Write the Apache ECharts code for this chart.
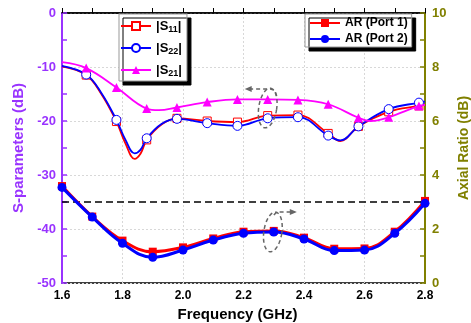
<!DOCTYPE html>
<html><head><meta charset="utf-8">
<script src="https://cdn.jsdelivr.net/npm/echarts@6/dist/echarts.min.js"></script>
<style>html,body{margin:0;padding:0;background:#fff}#c{width:471px;height:323px}</style>
</head><body><div id="c"></div>
<script>
// ---- data ----
const xTickLabels = ['1.6','1.8','2.0','2.2','2.4','2.6','2.8'];
const sFreq = [1.6,1.68,1.73,1.78,1.81,1.84,1.86,1.88,1.93,1.98,2.08,2.18,2.28,2.38,2.48,2.52,2.58,2.68,2.78,2.8];
const s11   = [-9.9,-11.5,-15.0,-20.1,-24.2,-27.0,-26.0,-23.5,-20.6,-19.5,-20.0,-20.2,-19.0,-18.9,-22.3,-23.7,-21.0,-18.3,-17.2,-17.0];
const s22   = [-9.8,-11.4,-14.8,-19.8,-23.5,-26.0,-25.3,-23.2,-20.5,-19.6,-20.4,-20.9,-19.5,-19.3,-22.7,-23.6,-21.0,-17.8,-16.6,-16.4];
const s21Freq = [1.6,1.68,1.78,1.88,1.92,1.98,2.08,2.18,2.28,2.38,2.48,2.58,2.62,2.68,2.78,2.8];
const s21     = [-9.1,-10.2,-13.8,-17.7,-18.0,-17.5,-16.5,-16.0,-16.0,-16.1,-16.9,-19.4,-20.0,-19.3,-17.2,-17.0];
const sMarkerFreq = [1.68,1.78,1.88,1.98,2.08,2.18,2.28,2.38,2.48,2.58,2.68,2.78];
const arFreq  = [1.6,1.7,1.8,1.9,2.0,2.1,2.2,2.3,2.4,2.5,2.6,2.7,2.8];
const arPort1 = [3.59,2.46,1.57,1.16,1.32,1.65,1.90,1.93,1.68,1.27,1.28,1.90,3.04];
const arPort2 = [3.54,2.44,1.47,0.95,1.22,1.59,1.84,1.89,1.63,1.20,1.22,1.84,2.95];
const arThreshold = 3;
const sNames = ['S11','S22','S21'];
const arNames = ['AR (Port 1)','AR (Port 2)'];

// ---- chart ----
const FONT = '"Liberation Sans", Arial, sans-serif';
const PURPLE = '#9933FF', OLIVE = '#808000';
const chart = echarts.init(document.getElementById('c'), null, {renderer:'canvas'});
const pairs = (f, v) => f.map((x, i) => [x, v[i]]);
const isMarker = x => sMarkerFreq.some(m => Math.abs(m - x) < 1e-6);

const gridLine = {show:true, lineStyle:{color:'#d8d8d8', type:[2,2], width:1}};
const option = {
  animation:false,
  backgroundColor:'#fff',
  grid:{left:62, right:46, top:13, bottom:40, show:true, borderColor:'#000', borderWidth:1.5, backgroundColor:'transparent', outerBoundsMode:'none'},
  xAxis:{
    type:'value', min:1.6, max:2.8, interval:0.2,
    name:'Frequency (GHz)', nameLocation:'middle', nameGap:23,
    nameTextStyle:{fontFamily:FONT, fontWeight:'bold', fontSize:15, color:'#000', padding:[0,12,0,0]},
    axisLine:{lineStyle:{color:'#000', width:1.5}},
    axisTick:{inside:true, length:5, lineStyle:{color:'#000', width:1}},
    minorTick:{show:true, splitNumber:2, length:5, lineStyle:{color:'#000', width:1}},
    axisLabel:{margin:7, fontFamily:FONT, fontWeight:'bold', fontSize:12, color:'#000',
      formatter:v => xTickLabels.find(t => Math.abs(parseFloat(t) - v) < 1e-6) || ''},
    splitLine:gridLine
  },
  yAxis:[{
    type:'value', min:-50, max:0, interval:10, position:'left',
    name:'S-parameters (dB)', nameLocation:'middle', nameGap:30,
    nameTextStyle:{fontFamily:FONT, fontWeight:'bold', fontSize:15, color:PURPLE},
    axisLine:{show:true, lineStyle:{color:PURPLE, width:2}},
    axisTick:{inside:true, length:5, lineStyle:{color:PURPLE, width:1.5}},
    minorTick:{show:true, splitNumber:2, length:5, lineStyle:{color:PURPLE, width:1.5}},
    axisLabel:{margin:6, fontFamily:FONT, fontWeight:'bold', fontSize:13, color:PURPLE},
    splitLine:gridLine
  },{
    type:'value', min:0, max:10, interval:2, position:'right',
    name:'Axial Ratio (dB)', nameLocation:'middle', nameGap:26,
    nameTextStyle:{fontFamily:FONT, fontWeight:'bold', fontSize:14, color:OLIVE},
    axisLine:{show:true, lineStyle:{color:OLIVE, width:2}},
    axisTick:{inside:true, length:5, lineStyle:{color:OLIVE, width:1.5}},
    minorTick:{show:true, splitNumber:2, length:5, lineStyle:{color:OLIVE, width:1.5}},
    axisLabel:{margin:7, fontFamily:FONT, fontWeight:'bold', fontSize:13, color:OLIVE},
    splitLine:{show:false}
  }],
  legend:[{
    data:sNames, orient:'vertical', left:119, top:14,
    itemWidth:30, itemHeight:10, itemGap:4, padding:[3,5,2,1],
    backgroundColor:'#fff', borderColor:'#999', borderWidth:1, borderRadius:0,
    shadowColor:'#000', shadowBlur:0, shadowOffsetX:4, shadowOffsetY:4,
    selectedMode:false,
    formatter:n => '|S{sub|' + n.slice(1) + '}|',
    textStyle:{fontFamily:FONT, fontWeight:'bold', fontSize:13, color:'#000', lineHeight:18,
      rich:{sub:{fontFamily:FONT, fontWeight:'bold', fontSize:9, color:'#000', padding:[8,0,0,0], lineHeight:18}}}
  },{
    data:arNames, orient:'vertical', left:305, top:14,
    itemWidth:30, itemHeight:10, itemGap:2, padding:[2,4,1,4],
    backgroundColor:'#fff', borderColor:'#999', borderWidth:1, borderRadius:0,
    shadowColor:'#000', shadowBlur:0, shadowOffsetX:4, shadowOffsetY:4,
    selectedMode:false,
    textStyle:{fontFamily:FONT, fontWeight:'bold', fontSize:12, color:'#000', lineHeight:14}
  }],
  series:[
    {name:'S11', type:'line', yAxisIndex:0, data:pairs(sFreq, s11), smooth:0.4,
      showSymbol:true, showAllSymbol:true, symbol:'rect', symbolSize:v => isMarker(v[0]) ? 8 : 0,
      lineStyle:{color:'#ff0000', width:1.8}, itemStyle:{color:'#fff', borderColor:'#ff0000', borderWidth:1},
      emphasis:{disabled:true}, z:2},
    {name:'S22', type:'line', yAxisIndex:0, data:pairs(sFreq, s22), smooth:0.4,
      showSymbol:true, showAllSymbol:true, symbol:'circle', symbolSize:v => isMarker(v[0]) ? 9 : 0,
      lineStyle:{color:'#0000ff', width:1.8}, itemStyle:{color:'#fff', borderColor:'#0000ff', borderWidth:1},
      emphasis:{disabled:true}, z:3},
    {name:'S21', type:'line', yAxisIndex:0, data:pairs(s21Freq, s21), smooth:0.4,
      showSymbol:true, showAllSymbol:true, symbol:'triangle', symbolSize:v => isMarker(v[0]) ? 9 : 0,
      lineStyle:{color:'#ff00ff', width:1.8}, itemStyle:{color:'#ff00ff'},
      emphasis:{disabled:true}, z:4},
    {name:'AR (Port 1)', type:'line', yAxisIndex:1, data:pairs(arFreq, arPort1), smooth:0.4,
      showSymbol:true, showAllSymbol:true, symbol:'rect', symbolSize:8,
      lineStyle:{color:'#ff0000', width:3}, itemStyle:{color:'#ff0000'},
      emphasis:{disabled:true}, z:5,
      markLine:{silent:true, symbol:'none', label:{show:false},
        lineStyle:{color:'#000', type:[7,4], width:1.5},
        data:[{yAxis:arThreshold}]}},
    {name:'AR (Port 2)', type:'line', yAxisIndex:1, data:pairs(arFreq, arPort2), smooth:0.4,
      showSymbol:true, showAllSymbol:true, symbol:'circle', symbolSize:9,
      lineStyle:{color:'#0000ff', width:3}, itemStyle:{color:'#0000ff'},
      emphasis:{disabled:true}, z:6}
  ]
};
chart.setOption(option);

// ---- annotations (dashed ellipses with arrows), placed from data coordinates ----
function ellipsePts(cx, cy, rx, ry, tilt){
  const pts = [];
  for (let k = 0; k <= 48; k++){
    const t = k / 48 * Math.PI * 2;
    const x = rx * Math.cos(t), y = ry * Math.sin(t);
    pts.push([cx + x*Math.cos(tilt) - y*Math.sin(tilt), cy + x*Math.sin(tilt) + y*Math.cos(tilt)]);
  }
  return pts;
}
const dashStyle = {stroke:'#666', lineWidth:1.5, lineDash:[4,3], fill:null};
const c1 = chart.convertToPixel({xAxisIndex:0, yAxisIndex:0}, [2.28, -17.6]);
const c2 = chart.convertToPixel({xAxisIndex:0, yAxisIndex:1}, [2.297, 1.89]);
const g = [];
g.push({type:'polyline', shape:{points:ellipsePts(c1[0], c1[1], 9, 20, 0.15)}, style:dashStyle, z:100, silent:true});
g.push({type:'polyline', shape:{points:[[c1[0]+9,c1[1]-12],[c1[0]+7,c1[1]-18],[c1[0]+2,c1[1]-19],[c1[0]-18,c1[1]-19]]}, style:dashStyle, z:100, silent:true});
g.push({type:'polygon', shape:{points:[[c1[0]-23,c1[1]-19],[c1[0]-16,c1[1]-22],[c1[0]-16,c1[1]-16]]}, style:{fill:'#666'}, z:100, silent:true});
g.push({type:'polyline', shape:{points:ellipsePts(c2[0], c2[1], 9, 20, 0.15)}, style:dashStyle, z:100, silent:true});
g.push({type:'polyline', shape:{points:[[c2[0]+1,c2[1]-17],[c2[0]+4,c2[1]-20],[c2[0]+18,c2[1]-20]]}, style:dashStyle, z:100, silent:true});
g.push({type:'polygon', shape:{points:[[c2[0]+24,c2[1]-20],[c2[0]+17,c2[1]-23],[c2[0]+17,c2[1]-17]]}, style:{fill:'#666'}, z:100, silent:true});
chart.setOption({graphic:g});
</script></body></html>
